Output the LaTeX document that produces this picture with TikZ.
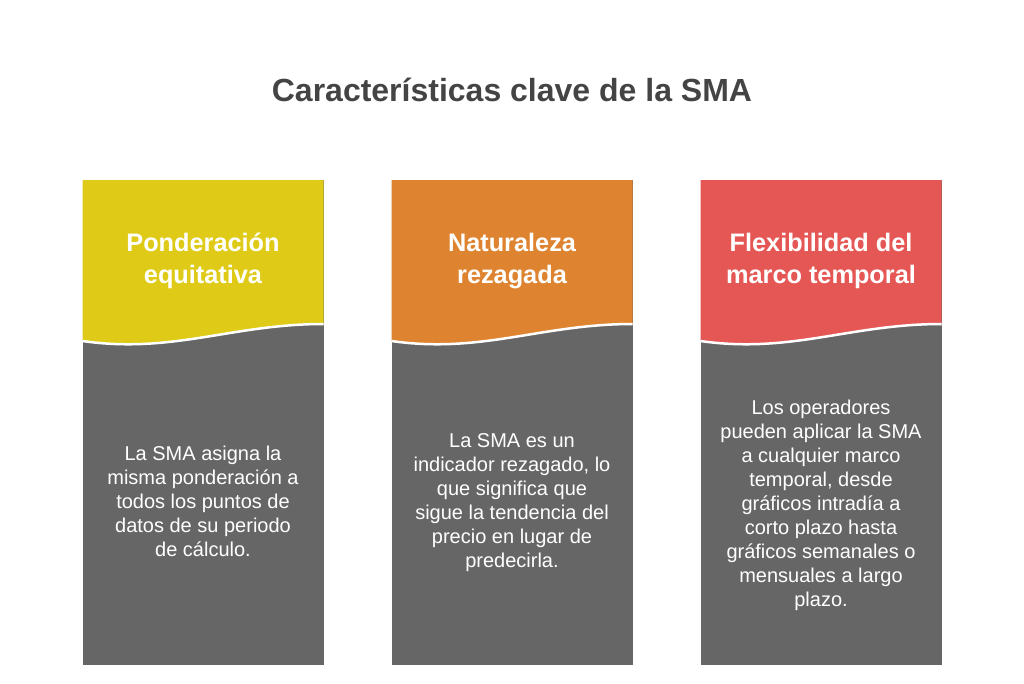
\documentclass[tikz,border=0pt]{standalone}
\usepackage{fontspec}
\setmainfont{Liberation Sans}
\definecolor{cyel}{HTML}{DFCB17}
\definecolor{corg}{HTML}{DE8431}
\definecolor{cred}{HTML}{E55754}
\definecolor{cgray}{HTML}{666666}
\definecolor{ctitle}{HTML}{444444}
\tikzset{
  titletext/.style={font=\fontsize{32}{38}\selectfont\bfseries, text=ctitle},
  headtext/.style={font=\fontsize{25.3}{32}\selectfont\bfseries, text=white, align=center},
  bodytext/.style={font=\fontsize{20}{24}\selectfont, text=white, align=center},
  wave/.style={draw=white, line width=2.5pt},
}
\begin{document}
\begin{tikzpicture}[x=1pt,y=-1pt]
\useasboundingbox (0,0) rectangle (1024,683);
\fill[white] (0,0) rectangle (1024,683);
\node[titletext] (title) at (512,90) {Características clave de la SMA};
\foreach \xo/\col/\nm in {82.5/cyel/a, 391.5/corg/b, 700.5/cred/c}{
  \fill[cgray] (\xo,180) rectangle (\xo+241,665);
  \fill[\col] (\xo,180) -- (\xo+241,180) -- (\xo+241,324)
     .. controls (\xo+150,324) and (\xo+90,354) .. (\xo,341) -- cycle;
  \draw[wave] (\xo+241,324)
     .. controls (\xo+150,324) and (\xo+90,354) .. (\xo,341);
}
\node[headtext] (h1) at (203,261) {Ponderación\\equitativa};
\node[headtext] (h2) at (512,261) {Naturaleza\\rezagada};
\node[headtext] (h3) at (821,261) {Flexibilidad del\\marco temporal};
\node[bodytext] (b1) at (203,501) {La SMA asigna la\\misma ponderación a\\todos los puntos de\\datos de su periodo\\de cálculo.};
\node[bodytext] (b2) at (512,503) {La SMA es un\\indicador rezagado, lo\\que significa que\\sigue la tendencia del\\precio en lugar de\\predecirla.};
\node[bodytext] (b3) at (821,505) {Los operadores\\pueden aplicar la SMA\\a cualquier marco\\temporal, desde\\gráficos intradía a\\corto plazo hasta\\gráficos semanales o\\mensuales a largo\\plazo.};
\end{tikzpicture}
\end{document}
